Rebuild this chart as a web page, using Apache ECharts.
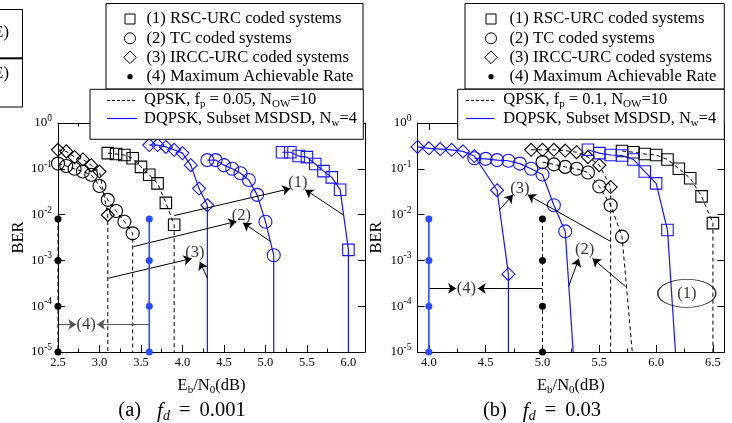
<!DOCTYPE html>
<html>
<head>
<meta charset="utf-8">
<script src="https://cdn.jsdelivr.net/npm/echarts@6/dist/echarts.min.js"></script>
<style>
  html, body { margin: 0; padding: 0; background: #fff; }
  #chart { width: 732px; height: 423px; }
</style>
</head>
<body>
<div id="chart"></div>
<script>
const FONT = "'Liberation Serif', 'Times New Roman', serif";
const BLUE = '#1414ff';
const FLOOR = 1e-5;

// (a) f_d = 0.001 -- last point of each curve is where it leaves the plot (no marker)
const ebA_rscQ = [3.1, 3.2, 3.3, 3.4, 3.5, 3.6, 3.7, 3.8, 3.9, 3.9];
const berA_rscQ = [0.22, 0.21, 0.2, 0.17, 0.11, 0.074, 0.048, 0.018, 0.006, FLOOR];
const ebA_tcQ = [2.5, 2.6, 2.7, 2.8, 2.9, 3.0, 3.1, 3.2, 3.3, 3.4, 3.4];
const berA_tcQ = [0.13, 0.115, 0.1, 0.087, 0.074, 0.042, 0.021, 0.012, 0.007, 0.0039, FLOOR];
const ebA_irccQ = [2.5, 2.6, 2.7, 2.8, 2.9, 3.0, 3.1, 3.1];
const berA_irccQ = [0.26, 0.24, 0.18, 0.16, 0.12, 0.087, 0.0098, FLOOR];
const ebA_rscD = [5.2, 5.3, 5.4, 5.5, 5.6, 5.7, 5.8, 5.9, 6.0, 6.0];
const berA_rscD = [0.23, 0.23, 0.19, 0.18, 0.127, 0.089, 0.065, 0.035, 0.0017, FLOOR];
const ebA_tcD = [4.3, 4.4, 4.5, 4.6, 4.7, 4.8, 4.9, 5.0, 5.1, 5.1];
const berA_tcD = [0.155, 0.155, 0.12, 0.1, 0.08, 0.057, 0.027, 0.007, 0.0013, FLOOR];
const ebA_irccD = [3.6, 3.7, 3.8, 3.9, 4.0, 4.1, 4.2, 4.3, 4.3];
const berA_irccD = [0.33, 0.33, 0.3, 0.26, 0.22, 0.12, 0.037, 0.016, FLOOR];

// (b) f_d = 0.03
const ebB_rscQ = [5.7, 5.8, 5.9, 6.0, 6.1, 6.2, 6.3, 6.4, 6.5, 6.5];
const berB_rscQ = [0.245, 0.23, 0.21, 0.2, 0.16, 0.1, 0.062, 0.025, 0.0065, FLOOR];
const ebB_tcQ = [5.0, 5.1, 5.2, 5.3, 5.4, 5.5, 5.6, 5.7, 5.79];
const berB_tcQ = [0.14, 0.125, 0.11, 0.1, 0.083, 0.041, 0.016, 0.0033, FLOOR];
const ebB_irccQ = [4.9, 5.0, 5.1, 5.2, 5.3, 5.4, 5.5, 5.6, 5.6];
const berB_irccQ = [0.26, 0.26, 0.26, 0.25, 0.23, 0.18, 0.12, 0.04, FLOOR];
const ebB_rscD = [5.4, 5.5, 5.6, 5.7, 5.8, 5.9, 6.0, 6.1, 6.17];
const berB_rscD = [0.26, 0.22, 0.2, 0.195, 0.16, 0.087, 0.048, 0.0046, FLOOR];
const ebB_tcD = [4.4, 4.5, 4.6, 4.7, 4.8, 4.9, 5.0, 5.1, 5.2, 5.27];
const berB_tcD = [0.17, 0.165, 0.155, 0.15, 0.13, 0.1, 0.075, 0.016, 0.0043, FLOOR];
const ebB_irccD = [3.9, 4.0, 4.1, 4.2, 4.3, 4.4, 4.6, 4.7, 4.7];
const berB_irccD = [0.3, 0.28, 0.27, 0.26, 0.24, 0.19, 0.034, 0.0005, FLOOR];

// (4) maximum achievable rate: [QPSK, DQPSK] positions
const marBer = [0.008, 1e-3, 1e-4, 1e-5];
const marA = [2.5, 3.6];
const marB = [5.0, 4.0];

// x axis ticks
const majorA = [2.5, 3.0, 3.5, 4.0, 4.5, 5.0, 5.5, 6.0];
const minorA = [2.75, 3.25, 3.75, 4.25, 4.75, 5.25, 5.75];
const majorB = [4.0, 4.5, 5.0, 5.5, 6.0, 6.5];
const minorB = [4.25, 4.75, 5.25, 5.75, 6.25];

// annotations: labels [x, ber, text], arrows [x1, ber1, x2, ber2] (head at 2nd point)
const labelsA = [[5.39, 0.049, '(1)'], [4.71, 0.0095, '(2)'], [4.15, 0.0015, '(3)'], [2.84, 4e-5, '(4)']];
const arrowsA = [
  [3.9, 0.0095, 5.3, 0.037], [5.94, 0.0098, 5.48, 0.035],
  [3.41, 0.002, 4.65, 0.0071], [5.06, 0.0026, 4.73, 0.0066],
  [3.11, 4.1e-4, 4.11, 1.1e-3], [4.3, 4.1e-4, 4.21, 9.3e-4],
  [2.5, 4e-5, 2.72, 4e-5], [3.6, 4e-5, 2.97, 4e-5]
];
const labelsB = [[6.27, 1.85e-4, '(1)'], [5.37, 0.0017, '(2)'], [4.8, 0.036, '(3)'], [4.33, 2.45e-4, '(4)']];
const arrowsB = [
  [4.62, 0.0126, 4.74, 0.027], [5.6, 0.0026, 4.87, 0.027],
  [5.23, 2.7e-4, 5.32, 1.1e-3], [5.73, 2.7e-4, 5.44, 1.1e-3],
  [4.0, 2.45e-4, 4.24, 2.45e-4], [5.0, 2.45e-4, 4.43, 2.45e-4]
];
const ellipseB = [[6.27, 1.9e-4]];

const chart = echarts.init(document.getElementById('chart'));

function curve(xs, ys, gi, color, dashed, symbol, size) {
  const last = xs.length - 1;
  return {
    type: 'line', xAxisIndex: gi * 4, yAxisIndex: gi * 2, clip: false, animation: false,
    data: xs.map((x, i) => i === last ? { value: [x, ys[i]], symbol: 'none' } : [x, ys[i]]),
    symbol: symbol, symbolSize: size, showAllSymbol: true,
    lineStyle: { color: color, width: dashed ? 1 : 1.2, type: dashed ? [4, 3] : 'solid' },
    itemStyle: { color: 'transparent', borderColor: color, borderWidth: 1.1 },
    emphasis: { disabled: true }, z: dashed ? 3 : 4
  };
}

function mar(x, gi, color, dashed) {
  return {
    type: 'line', xAxisIndex: gi * 4, yAxisIndex: gi * 2, clip: false, animation: false,
    data: marBer.map(b => [x, b]), symbol: 'circle', symbolSize: 7,
    lineStyle: { color: color, width: dashed ? 1 : 1.6, type: dashed ? [4, 3] : 'solid' },
    itemStyle: { color: color }, emphasis: { disabled: true }, z: 5
  };
}

function notes(gi, labels, arrows, greyLast) {
  return {
    type: 'scatter', xAxisIndex: gi * 4, yAxisIndex: gi * 2, clip: false, animation: false,
    data: labels, symbolSize: 0, z: 6, silent: true,
    label: { show: true, position: 'inside', formatter: p => p.data[2], fontFamily: FONT, fontSize: 16.5, color: '#000' },
    markLine: {
      silent: true, animation: false, symbol: ['none', 'arrow'], symbolSize: 8,
      label: { show: false },
      lineStyle: { color: '#000', width: 1, type: 'solid' },
      data: arrows.map((a, i) => {
        const item = [{ coord: [a[0], a[1]] }, { coord: [a[2], a[3]] }];
        if (greyLast && i >= arrows.length - 2) item[0].lineStyle = { color: '#555', width: 1.2, type: 'solid' };
        return item;
      })
    }
  };
}

const yLabelRich = {
  b: { fontFamily: FONT, fontSize: 13, lineHeight: 19, color: '#000' },
  s: { fontFamily: FONT, fontSize: 9.5, lineHeight: 10, verticalAlign: 'top', color: '#000' }
};
const nameRich = {
  n: { fontFamily: FONT, fontSize: 16.5, lineHeight: 20, color: '#000' },
  sb: { fontFamily: FONT, fontSize: 11, lineHeight: 11, verticalAlign: 'bottom', color: '#000' }
};

function xAxes(gi, min, max, major, minor) {
  const base = { type: 'value', gridIndex: gi, min: min, max: max, splitLine: { show: false } };
  const line = { show: true, onZero: false, lineStyle: { color: '#000', width: 1 } };
  return [
    Object.assign({}, base, {
      position: 'bottom', axisLine: line,
      axisTick: { show: true, inside: true, length: 7, customValues: major, lineStyle: { color: '#000' } },
      axisLabel: { show: true, customValues: major, formatter: v => v.toFixed(1), margin: 4, fontFamily: FONT, fontSize: 12.5, color: '#000' },
      name: '{n|E}{sb|b}{n|/N}{sb|0}{n|(dB)}', nameLocation: 'middle', nameGap: 24,
      nameTextStyle: { rich: nameRich }
    }),
    Object.assign({}, base, {
      position: 'bottom', axisLine: { show: false },
      axisTick: { show: true, inside: true, length: 3.5, customValues: minor, lineStyle: { color: '#000' } },
      axisLabel: { show: false }
    }),
    Object.assign({}, base, {
      position: 'top', axisLine: line,
      axisTick: { show: true, inside: true, length: 7, customValues: major, lineStyle: { color: '#000' } },
      axisLabel: { show: false }
    }),
    Object.assign({}, base, {
      position: 'top', axisLine: { show: false },
      axisTick: { show: true, inside: true, length: 3.5, customValues: minor, lineStyle: { color: '#000' } },
      axisLabel: { show: false }
    })
  ];
}

function yAxes(gi, nameGap) {
  const base = {
    type: 'log', logBase: 10, gridIndex: gi, min: 1e-5, max: 1, splitNumber: 5,
    splitLine: { show: false },
    axisLine: { show: true, onZero: false, lineStyle: { color: '#000', width: 1 } },
    axisTick: { show: true, inside: true, length: 7, lineStyle: { color: '#000' } }
  };
  return [
    Object.assign({}, base, {
      position: 'left',
      axisLabel: { show: true, margin: 6, formatter: v => '{b|10}{s|' + Math.round(Math.log10(v)) + '}', rich: yLabelRich },
      name: 'BER', nameLocation: 'middle', nameGap: nameGap, nameRotate: 90,
      nameTextStyle: { fontFamily: FONT, fontSize: 16.5, color: '#000' }
    }),
    Object.assign({}, base, { position: 'right', axisLabel: { show: false } })
  ];
}

// legend boxes (graphic)
function legendBoxes(box1, mx, tx, box2, lx0, lx1, tx2, qpskText) {
  const els = [];
  const rowY = [19, 38.3, 57.3, 76.7];
  const items = ['(1) RSC-URC coded systems', '(2) TC coded systems', '(3) IRCC-URC coded systems', '(4) Maximum Achievable Rate'];
  els.push({ type: 'rect', z: 100, shape: box1, style: { fill: '#fff', stroke: '#000', lineWidth: 1 } });
  els.push({ type: 'rect', z: 101, shape: { x: mx - 5, y: rowY[0] - 5, width: 10, height: 10 }, style: { fill: 'none', stroke: '#000', lineWidth: 1 } });
  els.push({ type: 'circle', z: 101, shape: { cx: mx, cy: rowY[1], r: 5.5 }, style: { fill: 'none', stroke: '#000', lineWidth: 1 } });
  els.push({ type: 'polygon', z: 101, shape: { points: [[mx, rowY[2] - 6.3], [mx + 6.3, rowY[2]], [mx, rowY[2] + 6.3], [mx - 6.3, rowY[2]]] }, style: { fill: 'none', stroke: '#000', lineWidth: 1 } });
  els.push({ type: 'circle', z: 101, shape: { cx: mx, cy: rowY[3], r: 2.6 }, style: { fill: '#000' } });
  items.forEach((t, i) => els.push({
    type: 'text', z: 101, style: { text: t, x: tx, y: rowY[i], verticalAlign: 'middle', fill: '#000', fontFamily: FONT, fontSize: 16.6 }
  }));
  els.push({ type: 'rect', z: 100, shape: box2, style: { fill: '#fff', stroke: '#000', lineWidth: 1 } });
  els.push({ type: 'line', z: 101, shape: { x1: lx0, y1: 100.5, x2: lx1, y2: 100.5 }, style: { stroke: '#000', lineWidth: 1, lineDash: [3, 2] } });
  els.push({ type: 'line', z: 101, shape: { x1: lx0, y1: 118.5, x2: lx1, y2: 118.5 }, style: { stroke: BLUE, lineWidth: 1.2 } });
  els.push({ type: 'text', z: 101, style: { text: qpskText, x: tx2, y: 100, verticalAlign: 'middle', rich: nameRich } });
  els.push({ type: 'text', z: 101, style: { text: '{n|DQPSK, Subset MSDSD, N}{sb|w}{n|=4}', x: tx2, y: 118.3, verticalAlign: 'middle', rich: nameRich } });
  return els;
}

const captionRich = {
  r: { fontFamily: FONT, fontSize: 20.5, lineHeight: 24, color: '#000' },
  gap: { width: 16 },
  eq: { width: 9 },
  i: { fontFamily: FONT, fontSize: 21, fontStyle: 'italic', lineHeight: 24, color: '#000' },
  sb: { fontFamily: FONT, fontSize: 14, fontStyle: 'italic', lineHeight: 13, verticalAlign: 'bottom', color: '#000' }
};

const graphicEls = [].concat(
  // clipped neighbouring legend at the left edge
  [
    { type: 'rect', z: 100, shape: { x: -5, y: 9.5, width: 27.5, height: 97.5 }, style: { fill: '#fff', stroke: '#000', lineWidth: 1 } },
    { type: 'line', z: 101, shape: { x1: 0, y1: 58.3, x2: 22.5, y2: 58.3 }, style: { stroke: '#000', lineWidth: 2 } },
    { type: 'text', z: 101, style: { text: 'E)', x: 9, y: 33, align: 'right', verticalAlign: 'middle', fill: '#000', fontFamily: FONT, fontSize: 16.6 } },
    { type: 'text', z: 101, style: { text: 'E)', x: 9, y: 74, align: 'right', verticalAlign: 'middle', fill: '#000', fontFamily: FONT, fontSize: 16.6 } }
  ],
  legendBoxes({ x: 106, y: 3.5, width: 257, height: 85.5 }, 130, 146.5,
    { x: 90, y: 89.3, width: 273.3, height: 50 }, 107, 137, 144,
    '{n|QPSK, f}{sb|p}{n| = 0.05, N}{sb|OW}{n|=10}'),
  legendBoxes({ x: 465, y: 3.5, width: 259.3, height: 85.5 }, 491, 509.5,
    { x: 457.7, y: 89.3, width: 266.6, height: 50 }, 466, 494.3, 503.3,
    '{n|QPSK, f}{sb|p}{n| = 0.1, N}{sb|OW}{n|=10}'),
  [
    { type: 'text', z: 101, style: { text: '{r|(a)}{gap|}{i|f}{sb|d}{eq|}{r|=}{eq|}{r|0.001}', x: 182, y: 411, align: 'center', verticalAlign: 'middle', rich: captionRich } },
    { type: 'text', z: 101, style: { text: '{r|(b)}{gap|}{i|f}{sb|d}{eq|}{r|=}{eq|}{r|0.03}', x: 542, y: 411, align: 'center', verticalAlign: 'middle', rich: captionRich } }
  ]
);

chart.setOption({
  animation: false,
  backgroundColor: '#fff',
  grid: [
    { left: 58, top: 123, width: 307, height: 229, outerBoundsMode: 'none' },
    { left: 417.5, top: 123, width: 306.8, height: 229, outerBoundsMode: 'none' }
  ],
  xAxis: [].concat(xAxes(0, 2.5, 6.2, majorA, minorA), xAxes(1, 3.9, 6.6, majorB, minorB)),
  yAxis: [].concat(yAxes(0, 27), yAxes(1, 32)),
  series: [
    curve(ebA_irccQ, berA_irccQ, 0, '#000', true, 'diamond', 13),
    curve(ebA_tcQ, berA_tcQ, 0, '#000', true, 'circle', 13),
    curve(ebA_rscQ, berA_rscQ, 0, '#000', true, 'rect', 11.5),
    curve(ebA_irccD, berA_irccD, 0, BLUE, false, 'diamond', 13),
    curve(ebA_tcD, berA_tcD, 0, BLUE, false, 'circle', 13),
    curve(ebA_rscD, berA_rscD, 0, BLUE, false, 'rect', 11.5),
    mar(marA[0], 0, '#000', true),
    mar(marA[1], 0, '#2a4bff', false),
    notes(0, labelsA, arrowsA, true),

    curve(ebB_irccQ, berB_irccQ, 1, '#000', true, 'diamond', 13),
    curve(ebB_tcQ, berB_tcQ, 1, '#000', true, 'circle', 13),
    curve(ebB_rscQ, berB_rscQ, 1, '#000', true, 'rect', 11.5),
    curve(ebB_irccD, berB_irccD, 1, BLUE, false, 'diamond', 13),
    curve(ebB_tcD, berB_tcD, 1, BLUE, false, 'circle', 13),
    curve(ebB_rscD, berB_rscD, 1, BLUE, false, 'rect', 11.5),
    mar(marB[0], 1, '#000', true),
    mar(marB[1], 1, '#2a4bff', false),
    notes(1, labelsB, arrowsB, false),
    {
      type: 'scatter', xAxisIndex: 4, yAxisIndex: 2, data: ellipseB, symbol: 'circle', symbolSize: [58, 28],
      itemStyle: { color: 'transparent', borderColor: '#000', borderWidth: 1.1 }, silent: true, z: 6
    }
  ],
  graphic: { elements: graphicEls }
});
</script>
</body>
</html>
